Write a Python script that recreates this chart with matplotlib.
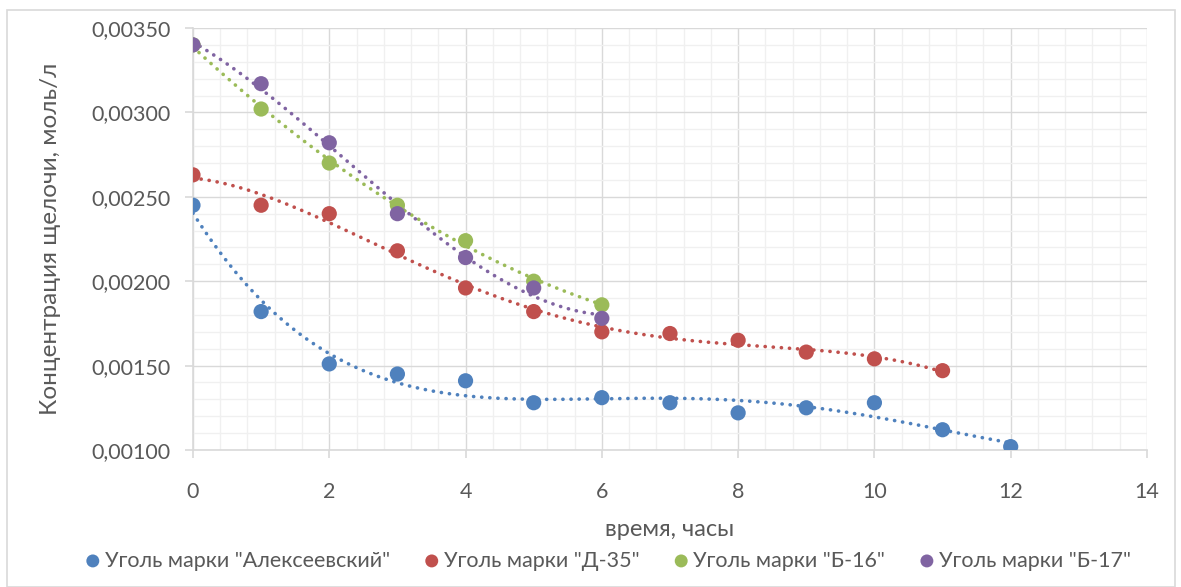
import numpy as np
import matplotlib
matplotlib.use("Agg")
import matplotlib.pyplot as plt
from matplotlib.patches import Rectangle
from matplotlib.ticker import MultipleLocator, FuncFormatter

# ---- data ----
hours_a = [0, 1, 2, 3, 4, 5, 6, 7, 8, 9, 10, 11, 12]
conc_a = [0.00245, 0.00182, 0.00151, 0.00145, 0.00141, 0.00128, 0.00131,
          0.00128, 0.00122, 0.00125, 0.00128, 0.00112, 0.00102]
hours_d = [0, 1, 2, 3, 4, 5, 6, 7, 8, 9, 10, 11]
conc_d = [0.00263, 0.00245, 0.00240, 0.00218, 0.00196, 0.00182, 0.00170,
          0.00169, 0.00165, 0.00158, 0.00154, 0.00147]
hours_b16 = [0, 1, 2, 3, 4, 5, 6]
conc_b16 = [0.00340, 0.00302, 0.00270, 0.00245, 0.00224, 0.00200, 0.00186]
hours_b17 = [0, 1, 2, 3, 4, 5, 6]
conc_b17 = [0.00340, 0.00317, 0.00282, 0.00240, 0.00214, 0.00196, 0.00178]

labels = ['Уголь марки "Алексеевский"', 'Уголь марки "Д-35"',
          'Уголь марки "Б-16"', 'Уголь марки "Б-17"']
colors = ['#4F81BD', '#C0504D', '#9BBB59', '#8064A2']
trend_deg = [4, 5, 2, 3]

x_title = 'время, часы'
y_title = 'Концентрация щелочи, моль/л'

series = [(hours_a, conc_a), (hours_d, conc_d), (hours_b16, conc_b16), (hours_b17, conc_b17)]

plt.rcParams['font.family'] = ['Lato', 'DejaVu Sans']
txt = '#595959'

fig = plt.figure(figsize=(11.81, 5.87), dpi=100)
ax = fig.add_axes([0.1634, 0.2334, 0.9712 - 0.1634, 0.9523 - 0.2334])

# outer chart border
fig.patches.append(Rectangle((7 / 1181, 0), (1175 - 7) / 1181, 1 - 10 / 587,
                             transform=fig.transFigure, fill=False,
                             edgecolor='#D9D9D9', linewidth=1.2, zorder=0))

handles = []
for (xs, ys), lab, col, deg in zip(series, labels, colors, trend_deg):
    xs = np.asarray(xs, float)
    ys = np.asarray(ys, float)
    coef = np.polyfit(xs, ys, deg)
    xx = np.linspace(xs.min(), xs.max(), 400)
    ax.plot(xx, np.polyval(coef, xx), color=col, linewidth=2.6,
            linestyle=(0, (0.05, 2.2)), dash_capstyle='round', zorder=3)
    h = ax.scatter(xs, ys, s=120, color=col, zorder=4, label=lab, edgecolors='none')
    handles.append(h)

ax.set_xlim(0, 14)
ax.set_ylim(0.0010, 0.0035)
ax.xaxis.set_major_locator(MultipleLocator(2))
ax.xaxis.set_minor_locator(MultipleLocator(0.4))
ax.yaxis.set_major_locator(MultipleLocator(0.0005))
ax.yaxis.set_minor_locator(MultipleLocator(0.0001))
ax.yaxis.set_major_formatter(FuncFormatter(lambda v, p: f'{v:.5f}'.replace('.', ',')))
ax.xaxis.set_major_formatter(FuncFormatter(lambda v, p: f'{v:.0f}'))

ax.grid(which='major', color='#D9D9D9', linewidth=1.0, zorder=0)
ax.grid(which='minor', color='#F0F0F0', linewidth=1.0, zorder=0)
ax.set_axisbelow(True)
for s in ['top', 'right']:
    ax.spines[s].set_visible(False)
for s in ['left', 'bottom']:
    ax.spines[s].set_color('#D9D9D9')
    ax.spines[s].set_linewidth(1.2)

ax.tick_params(which='major', length=6, color='#D9D9D9', width=1.2,
               labelsize=15.5, labelcolor=txt)
ax.tick_params(which='minor', length=0)
ax.tick_params(axis='x', pad=17)
ax.tick_params(axis='y', pad=10)

ax.set_ylabel(y_title, fontsize=17.5, color=txt, labelpad=22)
fig.text(0.567, 0.098, x_title, fontsize=17, color=txt, ha='center', va='center')

fig.legend(handles=handles, labels=labels, loc='center', bbox_to_anchor=(0.513, 0.045),
           ncol=4, frameon=False, fontsize=15.5, labelcolor=txt, handletextpad=0.0,
           columnspacing=1.4, markerscale=0.85, handlelength=1.1)

fig.savefig('out.png', dpi=100)
